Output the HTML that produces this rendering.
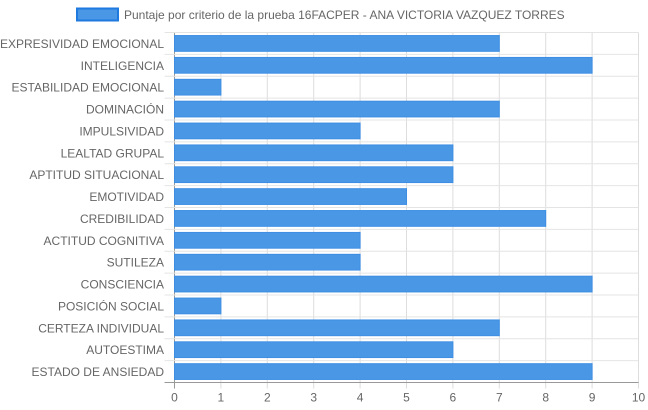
<!DOCTYPE html>
<html><head><meta charset="utf-8"><style>
body{margin:0;background:#fff;}
svg{display:block;font-family:"Liberation Sans",sans-serif;}
</style></head><body>
<svg id="chart" width="648" height="410">
<g>
<rect x="77" y="8.5" width="41" height="12" fill="#4a97e6" stroke="#1f7ae0" stroke-width="2"/>
<text x="124" y="19" font-size="12" fill="#666">Puntaje por criterio de la prueba 16FACPER - ANA VICTORIA VAZQUEZ TORRES</text>
</g>
<g id="grid"></g><g id="bars"></g><g id="labels"></g>
</svg>
<script>
const categories=["EXPRESIVIDAD EMOCIONAL","INTELIGENCIA","ESTABILIDAD EMOCIONAL","DOMINACIÓN","IMPULSIVIDAD","LEALTAD GRUPAL","APTITUD SITUACIONAL","EMOTIVIDAD","CREDIBILIDAD","ACTITUD COGNITIVA","SUTILEZA","CONSCIENCIA","POSICIÓN SOCIAL","CERTEZA INDIVIDUAL","AUTOESTIMA","ESTADO DE ANSIEDAD"];
const values=[7,9,1,7,4,6,6,5,8,4,4,9,1,7,6,9];
const ticks=[0,1,2,3,4,5,6,7,8,9,10];
const L=174.5,R=638.5,T=32.5,B=382.5;
const xs=v=>L+(v-ticks[0])/(ticks[ticks.length-1]-ticks[0])*(R-L);
const rowH=(B-T)/categories.length;
const ys=i=>T+i*rowH;
const NS="http://www.w3.org/2000/svg";
function mk(tag,attrs,parent,txt){const e=document.createElementNS(NS,tag);for(const k in attrs)e.setAttribute(k,attrs[k]);if(txt!==undefined)e.textContent=txt;document.getElementById(parent).appendChild(e);return e;}
ticks.forEach(t=>{
 const x=xs(t);
 const g=mk('line',{x1:x,x2:x,y1:T,y2:B+6,stroke:t===0?'#999':'#ddd','stroke-width':1},'grid');
 
 
 const l=mk('text',{x:x,y:B+19,'font-size':12,fill:'#666','text-anchor':'middle'},'labels',String(t));
 
 
});
for(let i=0;i<=categories.length;i++){
 const y=ys(i);
 const g=mk('line',{x1:L-10,x2:R,y1:y,y2:y,stroke:i===categories.length?'#999':'#e4e4e4','stroke-width':1},'grid');
 
 
}
categories.forEach((c,i)=>{
 const cy=ys(i)+rowH/2,h=rowH*0.72;
 const b=mk('rect',{x:xs(0),y:cy-h/2,width:xs(values[i])-xs(0),height:h,fill:'#4a97e6',stroke:'#3d8ee3','stroke-width':1},'bars');
 
 
 const t=mk('text',{x:164,y:cy+4.5,'font-size':12,fill:'#666','text-anchor':'end'},'labels',c);
 
 
});
</script>
</body></html>
